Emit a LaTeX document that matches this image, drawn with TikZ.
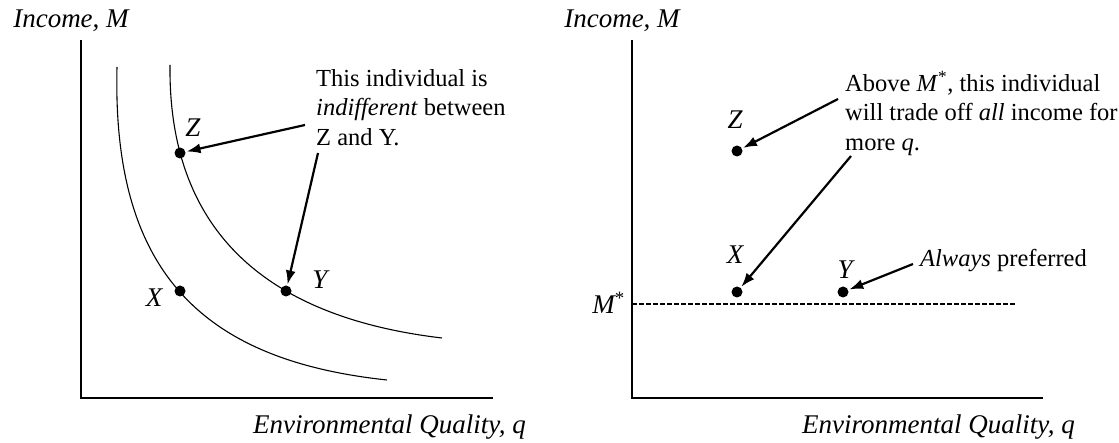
\documentclass[tikz,border=0pt]{standalone}
\usepackage{fontspec}
\setmainfont{Liberation Serif}
\usetikzlibrary{arrows.meta}
\begin{document}
\begin{tikzpicture}[x=1pt,y=-1pt,
  axis/.style={line width=1.8pt},
  curve/.style={line width=1.1pt},
  arr/.style={line width=2.2pt,-{Latex[length=14pt,width=10pt]},shorten >=1pt},
  dot/.style={circle,fill=black,inner sep=0pt,minimum size=11pt},
  axlab/.style={font=\fontsize{27}{32}\selectfont\itshape,inner sep=0pt},
  ptlab/.style={font=\fontsize{27}{32}\selectfont\itshape,inner sep=0pt},
  note/.style={font=\fontsize{24.5}{29.5}\selectfont,align=left,anchor=north west,inner sep=0pt}]
\useasboundingbox (0,0) rectangle (1119,443);
% ---------- left panel ----------
\node[axlab] (ylabL) at (71,21) {Income, M};
\node[axlab,anchor=west] (xlabL) at (253,427) {Environmental Quality, q};
\coordinate (topL) at (81,40);
\coordinate (oL) at (81,398);
\coordinate (endL) at (493,398);
\draw[axis] (topL) -- (oL) -- (endL);
\draw[curve] (117,67) .. controls (112,270) and (200,360) .. (387,380);
\draw[curve] (170,65) .. controls (168,250) and (290,320) .. (442,338);
\node[dot] (XL) at (180,291) {};
\node[dot] (ZL) at (180,153) {};
\node[dot] (YL) at (286,291) {};
\node[ptlab] (XLl) at (154,298) {X};
\node[ptlab] (ZLl) at (193,128) {Z};
\node[ptlab] (YLl) at (320,280) {Y};
\node[note] (noteL) at (316,69) {This individual is\\\textit{indifferent} between\\Z and Y.};
\coordinate (a1) at (305,125);
\coordinate (a2) at (318,153);
\draw[arr] (a1) -- (ZL);
\draw[arr] (a2) -- (YL);
% ---------- right panel ----------
\node[axlab] (ylabR) at (622,21) {Income, M};
\node[axlab,anchor=west] (xlabR) at (802,427) {Environmental Quality, q};
\coordinate (topR) at (632,40);
\coordinate (oR) at (632,398);
\coordinate (endR) at (1043,398);
\draw[axis] (topR) -- (oR) -- (endR);
\coordinate (mstar) at (632,304);
\coordinate (mend) at (1016,304);
\draw[line width=1.6pt,dash pattern=on 4.5pt off 2.5pt] (mstar) -- (mend);
\node[ptlab,anchor=east] (Ms) at (625,303) {M\textsuperscript{\upshape*}};
\node[dot] (ZR) at (737,151) {};
\node[dot] (XR) at (737,292) {};
\node[dot] (YR) at (843,292) {};
\node[ptlab] (ZRl) at (735,120) {Z};
\node[ptlab] (XRl) at (735,255) {X};
\node[ptlab] (YRl) at (845,270) {Y};
\node[note] (noteR) at (845,71) {Above \textit{M}\textsuperscript{*}, this individual\\will trade off \textit{all} income for\\more \textit{q}.};
\node[note,anchor=west] (always) at (920,261) {\textit{Always} preferred};
\coordinate (b1) at (838,99);
\coordinate (b2) at (851,156);
\coordinate (b3) at (913,264);
\draw[arr] (b1) -- (ZR);
\draw[arr] (b2) -- (XR);
\draw[arr] (b3) -- (YR);
\end{tikzpicture}
\end{document}
